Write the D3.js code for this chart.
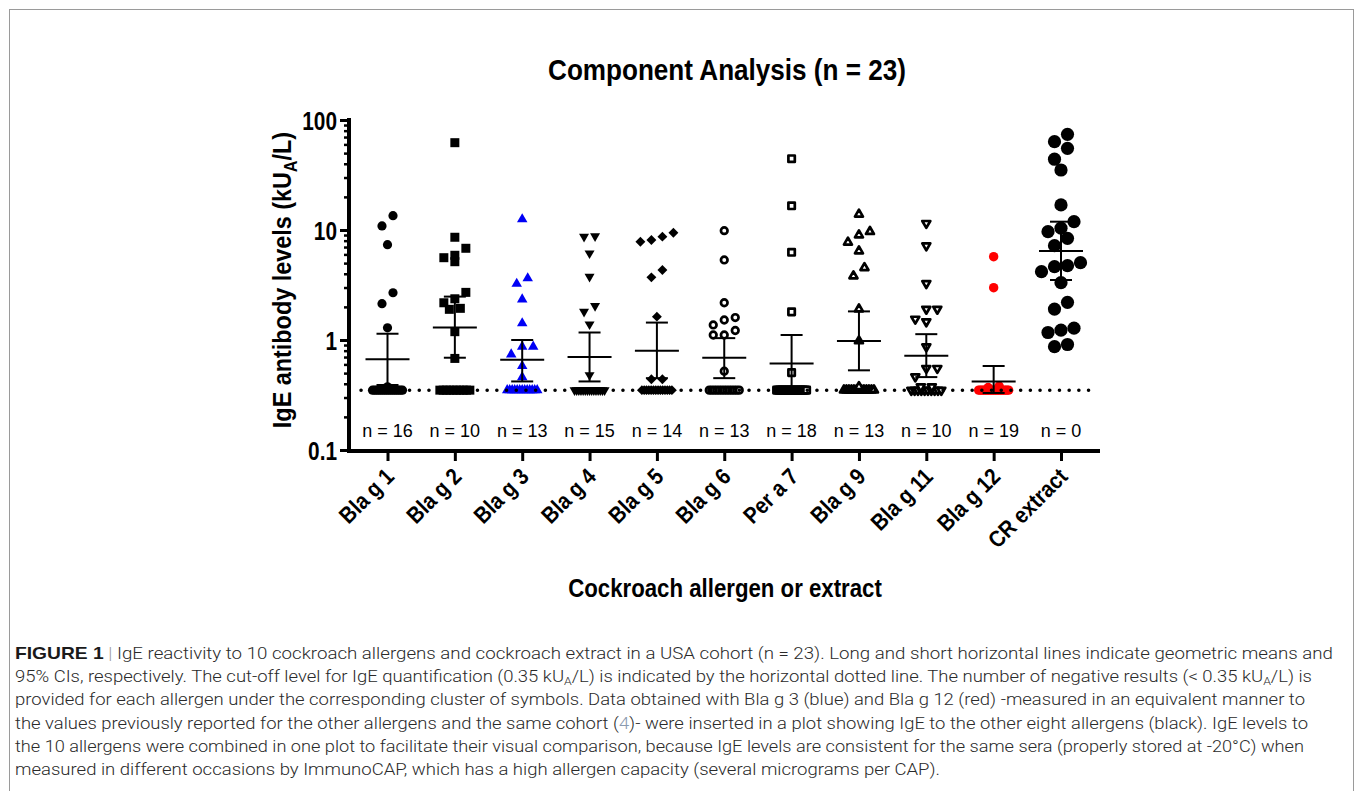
<!DOCTYPE html>
<html>
<head>
<meta charset="utf-8">
<script src="https://cdn.jsdelivr.net/npm/d3@7"></script>
<style>
  body { margin: 0; background: #fff; }
  svg { display: block; }
</style>
</head>
<body>
<svg id="chart"></svg>
<script>
(function () {
  // Variables
  var WIDTH = 1355
  var HEIGHT = 791
  var FONT = '"Liberation Sans", Arial, Helvetica, sans-serif'
  var CAPTION_FONT = 'Roboto, "Liberation Sans", Arial, sans-serif'
  var BLUE = '#0000f5'
  var RED = '#ff0000'

  // Data
  var categories = ['Bla g 1', 'Bla g 2', 'Bla g 3', 'Bla g 4', 'Bla g 5', 'Bla g 6', 'Per a 7', 'Bla g 9', 'Bla g 11', 'Bla g 12', 'CR extract']
  var negativeCounts = [16, 10, 13, 15, 14, 13, 18, 13, 10, 19, 0]
  var cutoff = 0.35

  var blag1 = [13.5, 10.9, 7.35, 2.69, 2.14, 1.29, 0.376]
  var blag2 = [62.2, 8.59, 6.82, 5.89, 5.6, 5.15, 2.71, 2.37, 2.18, 1.94, 1.9, 1.19, 0.68]
  var blag3 = [12.5, 3.64, 3.25, 2.34, 1.42, 0.87, 0.87, 0.74, 0.58, 0.46]
  var blag4 = [8.8, 8.7, 6.14, 3.76, 2.04, 1.81, 1.39, 0.48]
  var blag5 = [9.45, 8.7, 8.1, 7.83, 4.33, 3.71, 1.63, 0.44, 0.44]
  var blag6 = [9.86, 5.34, 2.18, 1.6, 1.52, 1.37, 1.22, 1.11, 1.11, 0.52]
  var pera7 = [44.5, 16.6, 6.27, 1.8, 0.505]
  var blag9 = [13.9, 9.66, 9.0, 7.73, 6.44, 4.54, 3.82, 1.91, 0.98, 0.376]
  var blag11 = [11.5, 7.2, 3.27, 1.91, 1.91, 1.55, 1.47, 0.87, 0.553, 0.553, 0.464, 0.376, 0.376]
  var blag12 = [5.72, 2.99, 0.382, 0.37]
  var crExtract = [74.1, 63.5, 55.3, 44, 35.1, 16.9, 11.9, 10.4, 9.66, 8.4, 7.2, 5.05, 4.74, 4.64, 4.18, 3.32, 2.2, 1.91, 1.28, 1.23, 1.17, 0.91, 0.87]
  var positives = [blag1, blag2, blag3, blag4, blag5, blag6, pera7, blag9, blag11, blag12, crExtract]

  var geoMeans = [0.67, 1.30, 0.66, 0.70, 0.80, 0.69, 0.61, 0.98, 0.72, 0.42, 6.44]
  var ciLower = [0.39, 0.69, 0.42, 0.42, 0.45, 0.45, 0.34, 0.53, 0.46, 0.33, 3.51]
  var ciUpper = [1.14, 2.48, 1.00, 1.17, 1.44, 1.04, 1.11, 1.82, 1.13, 0.58, 11.9]

  var yTicks = [0.1, 1, 10, 100]
  var yTickLabels = ['0.1', '1', '10', '100']

  // Marker look per cluster
  var markerStyles = [
    { shape: 'circle', size: 4.6, fill: '#000' },
    { shape: 'square', size: 9, fill: '#000' },
    { shape: 'triangle', size: 10.5, fill: BLUE },
    { shape: 'triangleDown', size: 10, fill: '#000' },
    { shape: 'diamond', size: 7, fill: '#000' },
    { shape: 'circle', size: 3.3, fill: '#fff', stroke: '#000' },
    { shape: 'square', size: 6.4, fill: '#fff', stroke: '#000' },
    { shape: 'triangle', size: 8, fill: '#fff', stroke: '#000' },
    { shape: 'triangleDown', size: 8, fill: '#fff', stroke: '#000' },
    { shape: 'circle', size: 4.7, fill: RED },
    { shape: 'circle', size: 6.6, fill: '#000' }
  ]

  var svg = d3.select('#chart')
    .attr('width', WIDTH)
    .attr('height', HEIGHT)

  svg.append('rect')
    .attr('width', WIDTH)
    .attr('height', HEIGHT)
    .attr('fill', '#fff')

  // figure frame
  svg.append('rect')
    .attr('x', 9.5)
    .attr('y', 9.5)
    .attr('width', 1344)
    .attr('height', 820)
    .attr('fill', 'none')
    .attr('stroke', '#9a9a9a')

  var y = d3.scaleLog().domain([0.1, 100]).range([450, 120])
  var x = d3.scalePoint().domain(categories).range([387.5, 1061])

  // Title
  condText(svg, 727, 80, 30, 0.87, 'middle').text('Component Analysis (n = 23)')

  // Y axis
  var minorTicks = y.ticks().filter(function (v) {
    return yTicks.indexOf(v) < 0
  })
  svg.append('g')
    .attr('transform', 'translate(349,0)')
    .call(d3.axisLeft(y).tickValues(minorTicks).tickSize(5).tickFormat(''))
    .call(styleTicks, 2.5)
  svg.append('g')
    .attr('transform', 'translate(349,0)')
    .call(d3.axisLeft(y).tickValues(yTicks).tickSize(9).tickFormat(''))
    .call(styleTicks, 3)
  svg.append('path')
    .attr('d', drawLine([349, 118], [349, 453]))
    .attr('stroke', '#000')
    .attr('stroke-width', 4)

  yTicks.forEach(function (v, i) {
    condText(svg, 337, y(v) + 9.5, 26, 0.8, 'end').text(yTickLabels[i])
  })

  var yTitle = svg.append('text')
    .attr('transform', 'translate(291,280) rotate(-90) scale(0.9,1)')
    .attr('text-anchor', 'middle')
    .attr('font-family', FONT)
    .attr('font-weight', 'bold')
    .attr('font-size', 26)
  yTitle.append('tspan').text('IgE antibody levels (kU')
  yTitle.append('tspan').attr('font-size', 18).attr('dy', 6).text('A')
  yTitle.append('tspan').attr('dy', -6).text('/L)')

  // X axis
  svg.append('g')
    .attr('transform', 'translate(0,451)')
    .call(d3.axisBottom(x).tickSize(10).tickFormat(''))
    .call(styleTicks, 3)
  svg.append('path')
    .attr('d', drawLine([347, 451], [1100, 451]))
    .attr('stroke', '#000')
    .attr('stroke-width', 4)

  categories.forEach(function (c) {
    svg.append('text')
      .attr('transform', 'translate(' + (x(c) + 8) + ',478) rotate(-45) scale(0.88,1)')
      .attr('text-anchor', 'end')
      .attr('font-family', FONT)
      .attr('font-weight', 'bold')
      .attr('font-size', 23)
      .text(c)
  })

  condText(svg, 725, 597, 26, 0.855, 'middle').text('Cockroach allergen or extract')

  // Points
  var pointLayer = svg.append('g').classed('points', true)
  categories.forEach(function (c, i) {
    var st = markerStyles[i]
    var cx = x(c)
    var r = st.shape === 'circle' && st.size > 6 ? 13 : 11
    var pts = negativePoints(negativeCounts[i]).concat(rowLayout(positives[i], r, r))
    pointLayer.append('g')
      .selectAll('path')
      .data(pts)
      .enter()
      .append('path')
      .attr('d', symbolPath(st))
      .attr('transform', function (d) {
        var t = 'translate(' + (cx + d.dx) + ',' + y(d.v) + ')'
        if (st.shape === 'triangleDown') t += ' rotate(180)'
        if (st.shape === 'diamond') t += ' rotate(45)'
        return t
      })
      .attr('fill', st.fill)
      .attr('stroke', st.stroke || 'none')
      .attr('stroke-width', st.stroke ? 2.7 : 0)
      .attr('stroke-linejoin', 'round')
  })

  // Geometric means and 95% CIs
  var barLayer = svg.append('g').classed('error-bars', true)
  categories.forEach(function (c, i) {
    var cx = x(c)
    var segs = [
      [[cx - 22, y(geoMeans[i])], [cx + 22, y(geoMeans[i])]],
      [[cx, y(ciLower[i])], [cx, y(ciUpper[i])]],
      [[cx - 11, y(ciLower[i])], [cx + 11, y(ciLower[i])]],
      [[cx - 11, y(ciUpper[i])], [cx + 11, y(ciUpper[i])]]
    ]
    segs.forEach(function (s) {
      barLayer.append('path')
        .attr('d', drawLine(s[0], s[1]))
        .attr('stroke', '#000')
        .attr('stroke-width', 2)
    })
  })

  // Cut-off line
  svg.append('path')
    .attr('d', drawLine([361, y(cutoff)], [1098, y(cutoff)]))
    .attr('stroke', '#000')
    .attr('stroke-width', 3.5)
    .attr('stroke-linecap', 'round')
    .attr('stroke-dasharray', '0.1, 9.6')

  // Number of negatives
  categories.forEach(function (c, i) {
    svg.append('text')
      .attr('x', x(c))
      .attr('y', 437)
      .attr('text-anchor', 'middle')
      .attr('font-family', FONT)
      .attr('font-size', 18)
      .text('n = ' + negativeCounts[i])
  })

  // Caption
  var captionLines = [
    [['FIGURE 1', 'b'], [' | ', 'sep'], ['IgE reactivity to 10 cockroach allergens and cockroach extract in a USA cohort (n = 23). Long and short horizontal lines indicate geometric means and']],
    [['95% CIs, respectively. The cut-off level for IgE quantification (0.35 kU'], ['A', 'sub'], ['/L) is indicated by the horizontal dotted line. The number of negative results (< 0.35 kU'], ['A', 'sub'], ['/L) is']],
    [['provided for each allergen under the corresponding cluster of symbols. Data obtained with Bla g 3 (blue) and Bla g 12 (red) -measured in an equivalent manner to']],
    [['the values previously reported for the other allergens and the same cohort ('], ['4', 'ref'], [')- were inserted in a plot showing IgE to the other eight allergens (black). IgE levels to']],
    [['the 10 allergens were combined in one plot to facilitate their visual comparison, because IgE levels are consistent for the same sera (properly stored at -20\u00b0C) when']],
    [['measured in different occasions by ImmunoCAP, which has a high allergen capacity (several micrograms per CAP).']]
  ]
  var captionEnds = [1333, 1312, 1305, 1308, 1304, 940]

  captionLines.forEach(function (line, i) {
    var t = svg.append('text')
      .attr('x', 15)
      .attr('y', 659 + i * 23.2)
      .attr('font-family', CAPTION_FONT)
      .attr('font-weight', 300)
      .attr('font-size', 16.5)
      .attr('fill', '#2a2a2a')
      .attr('textLength', captionEnds[i] - 15)
      .attr('lengthAdjust', 'spacingAndGlyphs')
    var shifted = false
    line.forEach(function (seg) {
      var s = t.append('tspan').text(seg[0])
      if (shifted) {
        s.attr('dy', -3)
        shifted = false
      }
      if (seg[1] === 'b') s.attr('font-weight', 'bold').attr('font-family', FONT).attr('font-size', 17).attr('fill', '#1a1a1a')
      if (seg[1] === 'sep') s.attr('fill', '#999')
      if (seg[1] === 'ref') s.attr('fill', '#8a9ab0')
      if (seg[1] === 'sub') {
        s.attr('font-size', 11).attr('dy', 3)
        shifted = true
      }
    })
  })

  function condText(parent, tx, ty, size, sx, anchor) {
    return parent.append('text')
      .attr('transform', 'translate(' + tx + ',' + ty + ') scale(' + sx + ',1)')
      .attr('text-anchor', anchor)
      .attr('font-family', FONT)
      .attr('font-weight', 'bold')
      .attr('font-size', size)
      .attr('fill', '#000')
  }

  function styleTicks(g, w) {
    g.select('.domain').remove()
    g.selectAll('.tick line')
      .attr('stroke', '#000')
      .attr('stroke-width', w)
  }

  function symbolPath(st) {
    var s = st.size
    if (st.shape === 'circle') return d3.symbol(d3.symbolCircle, Math.PI * s * s)()
    if (st.shape === 'square' || st.shape === 'diamond') return d3.symbol(d3.symbolSquare, s * s)()
    return d3.symbol(d3.symbolTriangle, Math.sqrt(3) * s * s / 4)()
  }

  // negatives sit on the cut-off, squeezed into one row
  function negativePoints(n) {
    var half = 15
    var pts = []
    for (var k = 0; k < n; k++) {
      pts.push({ v: cutoff, dx: n > 1 ? -half + k * 2 * half / (n - 1) : 0 })
    }
    return pts
  }

  // group points into rows by pixel height, then centre each row
  function rowLayout(values, gap, step) {
    var pts = values.map(function (v) { return { v: v, py: y(v) } })
    pts.sort(function (a, b) { return a.py - b.py })
    var rows = []
    pts.forEach(function (p) {
      var row = rows[rows.length - 1]
      if (row && p.py - row[0].py < gap) row.push(p)
      else rows.push([p])
    })
    rows.forEach(function (row) {
      var n = row.length
      row.forEach(function (p, k) {
        p.dx = ((n - 1) / 2 - k) * step
      })
    })
    return pts
  }

  function drawLine(from, to) {
    return 'M' + from[0] + ',' + from[1] + 'L' + to[0] + ',' + to[1]
  }
})()
</script>
</body>
</html>
